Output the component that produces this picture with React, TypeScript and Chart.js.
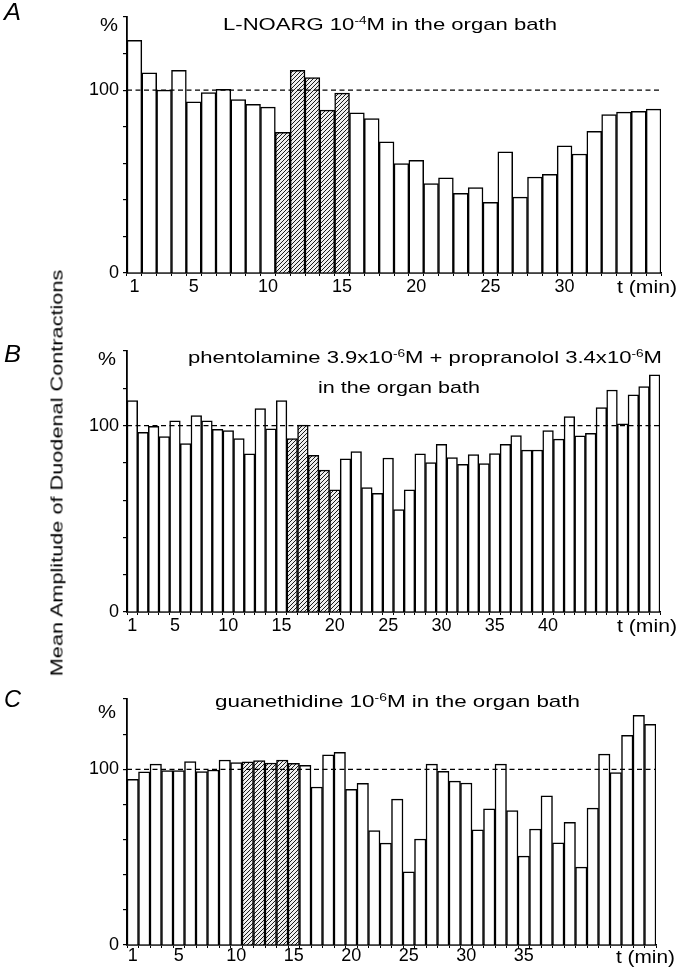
import React, { useEffect, useLayoutEffect, useRef } from 'react';
import { Chart, registerables } from 'chart.js';

Chart.register(...registerables);

const FONT = '"Liberation Sans", Arial, Helvetica, sans-serif';

// ---------- Panel A : L-NOARG ----------
const minutesA = [1, 2, 3, 4, 5, 6, 7, 8, 9, 10, 11, 12, 13, 14, 15, 16, 17, 18, 19, 20, 21, 22, 23, 24, 25, 26, 27, 28, 29, 30, 31, 32, 33, 34, 35, 36];
const amplitudeA = [127.3, 109.5, 100, 110.9, 93.6, 98.7, 100.5, 94.9, 92.2, 90.7, 76.9, 110.9, 106.9, 89.1, 98.4, 87.6, 84.5, 71.8, 59.8, 61.6, 48.9, 52, 43.6, 46.7, 38.7, 66.2, 41.5, 52.5, 54, 69.6, 65.1, 77.5, 86.7, 88, 88.4, 89.6];
const hatchedA = [11, 12, 13, 14, 15];
const tickLabelsA = [1, 5, 10, 15, 20, 25, 30];

// ---------- Panel B : phentolamine + propranolol ----------
const minutesB = [1, 2, 3, 4, 5, 6, 7, 8, 9, 10, 11, 12, 13, 14, 15, 16, 17, 18, 19, 20, 21, 22, 23, 24, 25, 26, 27, 28, 29, 30, 31, 32, 33, 34, 35, 36, 37, 38, 39, 40, 41, 42, 43, 44, 45, 46, 47, 48, 49, 50];
const amplitudeB = [113.4, 96.4, 99.6, 94.1, 102.5, 90.4, 105.3, 102.5, 98, 97.3, 93, 84.8, 109.1, 98.2, 113.4, 93, 100.2, 84.1, 76.1, 65.5, 82.1, 86, 66.7, 63.7, 82.6, 54.9, 65.5, 84.8, 80.1, 90, 82.8, 79.2, 84.4, 79.6, 85, 90, 94.6, 86.8, 86.9, 97.3, 92.7, 104.8, 94.5, 95.9, 109.7, 119.1, 100.9, 116.5, 120.9, 127.2];
const hatchedB = [16, 17, 18, 19, 20];
const tickLabelsB = [1, 5, 10, 15, 20, 25, 30, 35, 40];

// ---------- Panel C : guanethidine ----------
const minutesC = [1, 2, 3, 4, 5, 6, 7, 8, 9, 10, 11, 12, 13, 14, 15, 16, 17, 18, 19, 20, 21, 22, 23, 24, 25, 26, 27, 28, 29, 30, 31, 32, 33, 34, 35, 36, 37, 38, 39, 40, 41, 42, 43, 44, 45, 46];
const amplitudeC = [94.3, 98.5, 102.9, 99.2, 99.2, 104.4, 98.7, 99.6, 105.3, 103.8, 104.2, 104.9, 103.6, 105.3, 103.4, 102.3, 89.9, 108.2, 109.7, 88.6, 92, 65.1, 58, 83, 41.6, 60.3, 102.9, 98.9, 93.3, 92.2, 65.6, 77.5, 102.9, 76.5, 50.6, 66, 84.9, 58.2, 69.8, 44.3, 77.9, 108.6, 98.1, 119.3, 130.7, 125.6];
const hatchedC = [11, 12, 13, 14, 15];
const tickLabelsC = [1, 5, 10, 15, 20, 25, 30, 35];

// ---------- shared axis ----------
const yMin = 0;
const yMax = 140;
const yStep = 20;
const yLabelledValues = [0, 100];
const referenceLevel = 100;

function makeHatch(ctx: CanvasRenderingContext2D) {
  const pc = document.createElement('canvas');
  pc.width = 4;
  pc.height = 4;
  const g = pc.getContext('2d')!;
  g.fillStyle = '#eeeeee';
  g.fillRect(0, 0, 4, 4);
  g.strokeStyle = '#1a1a1a';
  g.lineWidth = 1;
  g.beginPath();
  g.moveTo(0, 4); g.lineTo(4, 0);
  g.moveTo(-1, 1); g.lineTo(1, -1);
  g.moveTo(3, 5); g.lineTo(5, 3);
  g.stroke();
  return ctx.createPattern(pc, 'repeat')!;
}

const refLinePlugin = {
  id: 'refLine',
  afterDatasetsDraw(chart: any) {
    const { ctx, chartArea } = chart;
    const y = chart.scales.y.getPixelForValue(referenceLevel);
    ctx.save();
    ctx.setLineDash([5, 3.5]);
    ctx.strokeStyle = '#000';
    ctx.lineWidth = 1.3;
    ctx.beginPath();
    ctx.moveTo(chartArea.left, y);
    ctx.lineTo(chartArea.right, y);
    ctx.stroke();
    ctx.restore();
  },
};

type PanelLayout = { top: number; height: number; padTop: number; xAxisH: number; padRight: number; tickPad: number };

function BarPanel(props: { minutes: number[]; values: number[]; hatched: number[]; tickLabels: number[]; layout: PanelLayout }) {
  const ref = useRef<HTMLCanvasElement>(null);
  const { minutes, values, hatched, tickLabels, layout } = props;
  useEffect(() => {
    const canvas = ref.current!;
    const ctx = canvas.getContext('2d')!;
    const hatch = makeHatch(ctx);
    const colors = minutes.map((m) => (hatched.includes(m) ? hatch : '#ffffff'));
    const chart = new Chart(canvas, {
      type: 'bar',
      data: {
        labels: minutes.map(String),
        datasets: [
          {
            data: values,
            backgroundColor: colors as any,
            borderColor: '#000',
            borderWidth: 1.5,
            barPercentage: 1,
            categoryPercentage: 1,
          },
        ],
      },
      options: {
        animation: false,
        responsive: false,
        maintainAspectRatio: false,
        layout: { padding: { top: layout.padTop, right: layout.padRight, left: 0, bottom: 0 } },
        plugins: { legend: { display: false }, tooltip: { enabled: false }, title: { display: false } },
        scales: {
          x: {
            grid: { display: true, drawOnChartArea: false, drawTicks: true, tickLength: 3, color: '#000', lineWidth: 1, offset: true },
            border: { color: '#000', width: 1.8 },
            ticks: {
              autoSkip: false,
              maxRotation: 0,
              minRotation: 0,
              padding: layout.tickPad,
              color: '#000',
              font: { family: FONT, size: 18 },
              callback: (_v: any, i: number) => (tickLabels.includes(minutes[i]) ? String(minutes[i]) : ''),
            },
            afterFit: (s: any) => {
              s.height = layout.xAxisH;
              s.paddingLeft = 0;
              s.paddingRight = 0;
            },
          },
          y: {
            min: yMin,
            max: yMax,
            grid: { display: true, drawOnChartArea: false, drawTicks: true, tickLength: 4, color: '#000', lineWidth: 1.2 },
            border: { color: '#000', width: 1.8 },
            ticks: {
              stepSize: yStep,
              padding: 4,
              color: '#000',
              font: { family: FONT, size: 18 },
              callback: (v: any) => (yLabelledValues.includes(Number(v)) ? String(v) : ''),
            },
            afterFit: (s: any) => {
              s.width = 127;
              s.paddingTop = 0;
              s.paddingBottom = 0;
            },
          },
        },
      },
      plugins: [refLinePlugin],
    });
    return () => chart.destroy();
  }, []);
  return (
    <canvas
      ref={ref}
      width={681}
      height={layout.height}
      style={{ position: 'absolute', left: 0, top: layout.top, width: 681, height: layout.height }}
    />
  );
}

function FitText(props: { x: number; y: number; width: number; size: number; italic?: boolean; children: React.ReactNode }) {
  const ref = useRef<HTMLDivElement>(null);
  useLayoutEffect(() => {
    const el = ref.current!;
    el.style.transform = 'none';
    const w = el.getBoundingClientRect().width;
    if (w > 0) el.style.transform = `scaleX(${props.width / w})`;
  }, []);
  return (
    <div
      ref={ref}
      style={{
        position: 'absolute',
        left: props.x,
        top: props.y,
        fontFamily: FONT,
        fontSize: props.size,
        fontStyle: props.italic ? 'italic' : 'normal',
        lineHeight: 1,
        whiteSpace: 'nowrap',
        transformOrigin: '0 0',
        color: '#000',
      }}
    >
      {props.children}
    </div>
  );
}

function VerticalTitle(props: { cx: number; cy: number; length: number; size: number; text: string }) {
  const ref = useRef<HTMLDivElement>(null);
  useLayoutEffect(() => {
    const el = ref.current!;
    const w = el.offsetWidth;
    const s = w > 0 ? props.length / w : 1;
    el.style.transform = `translate(-50%, -50%) rotate(-90deg) scaleX(${s})`;
  }, []);
  return (
    <div
      ref={ref}
      style={{
        position: 'absolute',
        left: props.cx,
        top: props.cy,
        fontFamily: FONT,
        fontSize: props.size,
        lineHeight: 1,
        whiteSpace: 'nowrap',
        transformOrigin: '50% 50%',
        color: '#000',
      }}
    >
      {props.text}
    </div>
  );
}

const supStyle: React.CSSProperties = { fontSize: '0.62em', verticalAlign: '0.6em', lineHeight: 0 };

export default function App() {
  return (
    <div style={{ position: 'absolute', left: 0, top: 0, width: 681, height: 972, background: '#fff', overflow: 'hidden' }}>
      <BarPanel minutes={minutesA} values={amplitudeA} hatched={hatchedA} tickLabels={tickLabelsA}
        layout={{ top: 0, height: 310, padTop: 17, xAxisH: 37, padRight: 20, tickPad: 0 }} />
      <BarPanel minutes={minutesB} values={amplitudeB} hatched={hatchedB} tickLabels={tickLabelsB}
        layout={{ top: 320, height: 330, padTop: 31, xAxisH: 38, padRight: 21, tickPad: 0 }} />
      <BarPanel minutes={minutesC} values={amplitudeC} hatched={hatchedC} tickLabels={tickLabelsC}
        layout={{ top: 660, height: 312, padTop: 39, xAxisH: 27, padRight: 25, tickPad: -3 }} />

      <FitText x={4} y={0} width={17} size={24} italic>A</FitText>
      <FitText x={4} y={342} width={17} size={24} italic>B</FitText>
      <FitText x={4} y={687} width={17} size={24} italic>C</FitText>

      <FitText x={223} y={16} width={334} size={17}>
        L-NOARG 10<sup style={supStyle}>-4</sup>M in the organ bath
      </FitText>
      <FitText x={188} y={349} width={474} size={17}>
        phentolamine 3.9x10<sup style={supStyle}>-6</sup>M + propranolol 3.4x10<sup style={supStyle}>-6</sup>M
      </FitText>
      <FitText x={318} y={379} width={162} size={17}>in the organ bath</FitText>
      <FitText x={215} y={693} width={365} size={17}>
        guanethidine 10<sup style={supStyle}>-6</sup>M in the organ bath
      </FitText>

      <FitText x={100} y={15} width={18} size={19}>%</FitText>
      <FitText x={98} y={349} width={18} size={19}>%</FitText>
      <FitText x={98} y={702} width={18} size={19}>%</FitText>

      <FitText x={617} y={278} width={60} size={18}>t (min)</FitText>
      <FitText x={617} y={617} width={60} size={18}>t (min)</FitText>
      <FitText x={616} y={948} width={59} size={18}>t (min)</FitText>

      <VerticalTitle cx={57} cy={473} length={406} size={17} text="Mean Amplitude of Duodenal Contractions" />
    </div>
  );
}
